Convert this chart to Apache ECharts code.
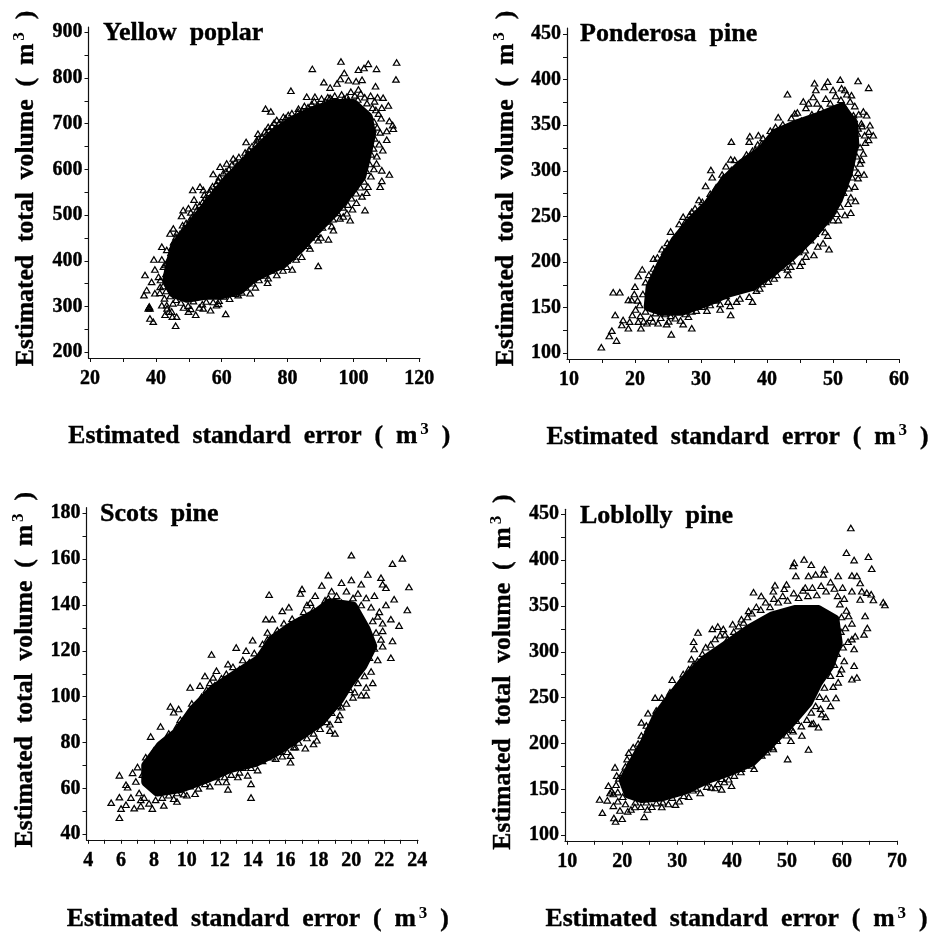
<!DOCTYPE html>
<html><head><meta charset="utf-8">
<style>html,body{margin:0;padding:0;background:#fff}#c{width:931px;height:934px}</style>
<script src="https://cdn.jsdelivr.net/npm/echarts@6/dist/echarts.min.js"></script>
</head><body><div id="c"></div>
<script>
// Individually readable triangles (x = standard error, y = total volume).
const poplarPoints = [[96.2,836],[104.5,831],[113.1,834],[112.9,797],[87.5,820],[107,820],[101.5,818],[103.2,822],[97.2,811],[91,791],[96,798],[95,788],[98.5,795],[102.6,796],[100.8,793],[92.9,779],[81,772],[106.7,782],[101.5,775],[36.7,369],[36.4,325],[37.2,336],[38.7,354],[37.9,298],[37.7,296],[38,300],[38.2,296],[38.2,274],[39.2,267],[39.4,403],[39.7,381],[41.8,403],[41.8,431],[43.3,424],[42.3,387],[40.8,365],[41.3,343],[39.7,329],[42.8,282],[44,289],[44.8,289],[46,258],[46.3,278],[45,278],[41.8,303],[43.3,303],[44.3,460],[45.3,471],[46.3,460],[47.8,498],[48.3,511],[49.9,515],[51.2,555],[51.6,534],[53.4,562],[54.4,555],[55.4,533],[58,555],[57.4,590],[59.5,606],[59,576],[61.5,613],[63.5,624],[67.4,660],[68,635],[67.4,629],[71,678],[70.6,664],[73.3,733],[74.9,727],[74.1,693],[73.6,678],[76.7,708],[78.7,715],[80.2,719],[83.3,733],[85.8,759],[88.3,759],[92.9,757],[98,759],[109,757],[106.8,730],[108.6,735],[110.6,740],[110.9,706],[111.9,697],[110.1,684],[112.1,689],[110.1,665],[108.9,642],[107,613],[108.6,598],[110.9,589],[108.6,575],[108.1,562],[104,549],[103.5,511],[99,489],[98,504],[95.9,493],[93.9,467],[92.4,447],[89.3,445],[89.3,389],[86.8,427],[84.3,409],[81.4,381],[79.7,387],[76.7,369],[73.9,352],[70.6,369],[68.6,329],[65,325],[61.2,284],[59,306],[56.6,292],[54.4,296],[52.1,282],[49.9,289]];
const ponderosaPoints = [[14.9,106.6],[16.1,119],[16.5,124.8],[17.2,113.9],[16.7,166.9],[17.7,166.9],[17,142],[18.2,136.5],[18,131],[19,127.4],[19,158.5],[19.5,158.5],[20,173],[20.5,184.8],[22.8,203.8],[24.5,211.4],[25.4,233.4],[25.8,224],[26.7,241.8],[27.3,249.8],[28.6,255.3],[29.7,268],[30.7,283.4],[31.5,301],[31.7,293],[33.4,293],[33.8,305],[34.5,312.6],[34.6,332],[34.6,301],[36.4,312],[37.4,338],[37.3,332],[38.7,339],[38.2,323],[39.2,330],[40.5,344],[41.7,358.7],[42,346.6],[43.1,384],[44.2,363],[45.5,376],[46.3,374],[47.2,396],[47.4,388.6],[47,381],[49.2,397.8],[48.7,392],[51.1,400],[51.3,390.5],[50,388.6],[53.8,398.5],[55.4,391],[52.8,383],[51.8,388.6],[54.6,365],[55.1,361],[55.6,350],[56.1,339],[55.4,343],[54.3,352],[53.1,361],[53.8,346.6],[54.8,339],[55.4,334],[54.6,319],[54.1,308],[54.7,296],[53.8,292],[53.3,282.7],[53.4,267],[52.3,264],[52.7,254],[51.8,251.6],[50.6,253],[50,246],[48.8,233],[49.4,214],[48.5,220.6],[47.1,207.8],[45.8,213],[45.3,200.5],[45,196],[43.2,185.9],[43.6,195],[41.5,186],[40.2,178.6],[38.4,168.7],[37.8,156.6],[35.4,156.6],[34.5,142],[34.1,156.6],[32.9,154],[30.9,146.8],[29.3,146.8],[28.6,127.4],[27.3,132],[28.1,140],[26.1,138.4],[25.5,120.8],[24.8,132],[23.5,132.9],[21.8,132.9],[20.9,127.4],[19.2,134.7],[20.5,134.7]];
const scotsPoints = [[5.4,53.8],[5.9,65.7],[5.9,56.2],[6,51.2],[5.9,47.2],[6.3,52.9],[6.3,61.6],[6.7,66.8],[6.8,51.4],[7.2,52.3],[7,69.3],[7.5,73.6],[7.8,82.6],[7.9,51.2],[8.4,87],[8,76.5],[8.6,52.6],[9,95.7],[9.2,93.2],[9.5,94.6],[9.4,54.3],[10,57],[9.2,55.5],[10.2,104],[10.8,104.8],[10.5,57.7],[11.1,109],[11.5,118.4],[11.6,108.4],[11.8,111.3],[12.5,114.2],[13,121.4],[12.5,59.6],[12.4,62.8],[11.9,62.8],[13.6,120],[14,124.6],[13.9,62],[13.9,56],[13.7,65.7],[13.2,67],[14.8,133.8],[15,144.5],[15.2,133.8],[14.9,128],[15.8,137.4],[16.2,139],[15.2,73.6],[15.8,74],[16.3,71.4],[16.3,74.3],[16.6,78],[16.9,145],[17,147],[17.2,77.5],[17.3,140],[17.8,144],[17.5,141],[17.7,79.4],[18.6,153],[18.2,148.5],[18.7,85.2],[19,84],[19.2,90],[19.4,149.7],[19.4,95.4],[20,161.7],[20,150.9],[20.1,99.7],[20.6,100.7],[20.9,100.7],[21,153.3],[20.6,149],[21.3,106],[21.8,151.9],[22.1,147.5],[21.9,149],[22.5,158],[23.1,160.3],[23.5,147.8],[23.4,137.8],[22.4,117],[22.5,124.3],[21.9,122],[22.9,131],[22.4,133.8],[22.6,142.5],[22.1,140],[21.6,135],[21.9,128.7]];
const loblollyPoints = [[61.6,435],[60.8,408],[62.2,400],[64.8,403.6],[65.4,390.6],[53.1,400.7],[54.4,395],[51.3,397],[51.1,393.5],[51.6,382.6],[56.8,389.9],[55.2,384.4],[56.6,384.4],[53.9,382.6],[59.3,382.6],[61.8,383.3],[62.7,382.6],[63.3,375],[61.8,366],[63.6,366],[64.5,364.5],[65.3,362.7],[65.7,356.5],[63.3,357],[67.5,354],[67.8,351],[64.2,339],[61.8,331],[64.6,326],[64,319],[62.4,317],[61.8,313.8],[62.2,303],[62.2,284.8],[62.7,272],[61.8,270],[59.9,281],[59.3,266.7],[58.9,249.6],[57.9,241],[57,229],[56.3,232],[55.7,217.8],[54.5,221.4],[53.9,193.5],[52.7,208.7],[51.1,213.4],[50.7,203],[50.1,183],[47.5,194],[46.3,190.6],[44,172.5],[41.7,172.5],[39.9,154],[38.1,150],[36.9,151.4],[38.1,161.6],[35.4,158],[32.9,149],[29.7,133.3],[27.2,130.8],[24.6,128],[24,120],[22.3,130.8],[21,126],[20,118],[18.8,115],[18.5,118.8],[16.4,124.6],[15.9,139],[17.3,138],[17.5,154],[18.4,145],[18.7,174],[19,165],[20.9,183],[22,196],[23.5,208.7],[23.5,223],[24.7,233],[24.4,219.6],[26,250],[27.2,250],[29.1,269.6],[28.7,255.8],[31.1,275.7],[32.6,292],[33.1,303],[33,310.9],[33.8,321],[36.4,325],[37.4,327.5],[38.7,319],[40.1,330],[41.7,335.5],[43,344.6],[43.9,365],[45.3,360.9],[47.8,372.5],[47.5,366],[49.9,373.5],[49.5,368.8],[53.3,370]];
// Crowded rim round each dense region, estimated by eye.
const poplarRim = [[43.1,372],[43.8,402],[44.6,418],[42.9,391],[45.4,441],[44.9,429],[46.6,447],[47.3,459],[46.1,452],[48.5,471],[49.2,483],[48.1,478],[50.3,489],[51.1,497],[50.6,506],[52.4,511],[53.3,522],[52.1,519],[54.2,529],[55.1,538],[54.7,545],[56.3,549],[57.2,563],[56.6,556],[58.4,568],[59.3,583],[58.9,575],[60.5,592],[61.3,596],[62.2,601],[63.1,611],[62.8,592],[64.3,618],[65.2,627],[64.7,610],[66.4,621],[67.1,637],[68.3,643],[69.2,651],[68.8,629],[70.4,655],[71.3,668],[72.2,671],[71.8,651],[73.1,683],[74.4,686],[75.3,695],[76.2,690],[75.9,702],[77.5,702],[78.3,699],[79.4,712],[80.2,706],[81.3,723],[82.4,716],[83.2,726],[84.4,729],[85.1,739],[86.2,736],[87.3,743],[88.1,749],[89.2,741],[90.3,755],[91.4,749],[92.2,758],[93.4,753],[94.3,761],[95.2,749],[96.4,764],[97.1,755],[98.3,752],[99.2,770],[100.4,762],[101.3,753],[102.2,766],[103.4,758],[104.1,745],[105.2,761],[106.4,749],[107.3,758],[105.8,735],[107.6,722],[106.2,705],[108.4,712],[107.2,692],[105.9,688],[108.1,681],[106.4,668],[107.8,655],[106.1,646],[105.4,633],[107.1,629],[104.9,612],[106.2,601],[103.9,597],[105.3,585],[103.2,574],[104.4,562],[102.1,561],[100.8,548],[102.6,541],[99.4,537],[100.9,527],[98.3,523],[99.7,513],[96.8,517],[95.2,505],[96.9,497],[93.8,491],[92.1,486],[93.4,476],[90.6,473],[88.9,459],[90.1,451],[87.2,451],[85.4,438],[86.3,433],[83.1,425],[81.5,409],[82.6,403],[79.8,401],[77.4,388],[78.6,379],[75.1,379],[73.2,368],[74.1,362],[71.3,358],[69.4,351],[70.2,342],[67.3,342],[66.1,331],[64.2,328],[62.4,317],[60.6,322],[59.2,313],[57.4,310],[58.4,303],[55.3,311],[53.2,298],[54.1,305],[51.4,312],[49.8,302],[50.6,295],[47.6,309],[48.4,298],[46.1,315],[44.4,323],[45.2,307],[43.1,334],[42.2,345],[41.4,358],[42.6,318],[41.2,330],[43.4,296]];
const ponderosaRim = [[21.2,165],[20.4,158],[21.6,178],[22.1,186],[21.1,192],[22.8,193],[23.4,205],[24.1,214],[23.2,187],[24.9,221],[25.2,212],[26.3,229],[26.9,235],[27.6,244],[26.5,219],[28.3,252],[29.1,259],[28.8,241],[30.2,266],[30.6,258],[31.4,275],[32.3,282],[32.8,272],[33.2,296],[34.1,289],[34.9,296],[35.6,303],[35.1,312],[36.9,318],[36.2,301],[37.8,322],[38.6,329],[39.4,336],[39.9,324],[40.8,341],[41.3,348],[42.4,351],[42.9,342],[43.7,358],[44.6,364],[45.2,355],[45.9,369],[46.8,362],[47.6,374],[48.2,368],[48.9,379],[49.6,374],[50.4,382],[51.2,378],[52.1,384],[51.7,371],[52.6,376],[53.3,371],[53.9,362],[53.2,357],[54.4,349],[53.7,341],[54.9,331],[54.1,326],[53.6,316],[54.3,312],[53.2,304],[52.9,293],[53.8,298],[52.4,281],[51.6,276],[52.7,271],[51.1,261],[50.4,266],[49.9,257],[50.8,246],[48.9,244],[48.1,238],[49.2,229],[47.3,231],[46.6,224],[47.7,217],[45.4,219],[44.8,211],[45.9,206],[43.8,201],[42.9,204],[42.2,194],[43.1,192],[41.1,182],[40.4,189],[39.2,176],[38.1,181],[38.9,171],[36.8,172],[37.3,162],[35.2,168],[35.9,160],[33.8,163],[34.4,152],[32.2,158],[31.4,153],[32.9,148],[30.2,151],[29.1,152],[27.6,143],[28.6,146],[26.4,147],[25.4,141],[26.9,136],[24.6,143],[23.9,139],[23.1,144],[22.4,139],[21.6,146],[20.8,141],[21.3,135],[20.1,148],[19.6,142],[20.7,153],[19.9,165],[22.7,135],[25.1,135]];
const scotsRim = [[6.4,60.5],[6.9,63],[7.1,58],[6.6,56],[7.3,66],[7.6,69],[7.2,55],[7.7,72],[8.1,75],[8.2,69],[8.5,80],[8.7,77],[8.9,84],[9.1,82],[9.4,87],[9.6,90],[9.9,88],[10.1,93],[10.3,97],[10.6,96],[10.9,100],[11.2,103],[11.4,106],[11.7,105],[12.1,108],[12.4,110],[12.8,113],[13.2,112],[13.4,116],[13.8,115],[14.1,119],[14.4,118],[14.6,123],[14.9,125],[15.2,122],[15.5,129],[15.9,132],[16.2,128],[16.4,134],[16.8,133],[17.1,137],[17.4,135],[17.7,138],[18.1,137],[18.4,142],[18.8,146],[18.6,143],[19.1,144],[19.4,141],[19.7,146],[20.1,143],[20.4,145],[20.6,140],[20.9,143],[21.2,139],[21.4,144],[21.3,133],[21.7,137],[21.5,128],[21.9,132],[21.8,125],[21.4,121],[21.6,116],[21.1,117],[21.2,111],[20.8,109],[20.9,104],[20.4,106],[20.2,102],[19.9,103],[19.7,97],[19.2,96],[19.3,92],[18.8,93],[18.5,89],[18.7,88],[18.1,86],[17.7,84],[17.9,81],[17.3,82],[16.8,80],[16.5,78],[16.1,76],[15.7,76],[15.4,73],[14.9,74],[14.6,72],[14.3,68],[13.9,69],[13.4,69],[13.1,65],[12.7,66],[12.3,65],[11.8,65],[11.4,61],[11.1,62],[10.7,60],[10.2,61],[9.8,57.5],[9.4,58],[8.9,57],[8.5,56],[8.1,55],[7.7,53.5],[7.4,56],[8.3,59]];
const loblollyRim = [[18.1,148],[18.9,155],[19.4,162],[19.2,147],[20.1,168],[20.6,175],[21.4,179],[21.2,190],[22.4,188],[22.9,200],[23.6,197],[24.2,209],[24.7,216],[25.4,222],[25.1,205],[26.2,236],[26.8,230],[27.6,243],[28.3,247],[29.2,256],[29.8,262],[30.6,268],[31.4,272],[32.1,281],[32.9,285],[33.7,290],[34.6,298],[35.2,305],[36.1,308],[36.9,314],[37.8,318],[38.4,325],[39.2,314],[40.3,322],[41.2,328],[42.1,332],[42.8,338],[43.6,342],[44.4,349],[45.2,346],[46.1,354],[46.9,349],[47.6,358],[48.4,354],[49.2,361],[50.1,356],[51.2,364],[52.1,359],[52.9,367],[53.8,361],[54.6,370],[55.4,362],[56.2,372],[57.1,366],[57.9,376],[58.6,369],[59.2,361],[60.1,370],[59.6,352],[60.4,358],[60.8,345],[59.9,338],[61.2,339],[60.6,326],[59.8,322],[61.1,311],[60.2,305],[59.1,298],[60.4,290],[58.6,286],[59.6,276],[57.9,274],[58.4,262],[56.8,261],[57.1,249],[55.9,251],[55.2,241],[56.1,238],[54.4,234],[53.6,226],[54.8,222],[52.6,219],[51.7,225],[50.9,215],[49.9,209],[49.1,214],[48.2,203],[47.4,196],[46.6,199],[45.4,187],[44.6,192],[43.6,176],[42.4,178],[41.6,169],[40.4,165],[39.4,161],[38.6,158],[37.4,156],[36.2,152],[35.4,153],[34.2,146],[33.4,151],[32.1,142],[31.2,143],[30.4,137],[29.1,141],[28.4,134],[27.4,136],[26.2,135],[25.4,131],[24.4,136],[23.4,131],[22.4,136],[21.6,128],[20.6,134],[19.6,127],[20.1,142],[19.2,137],[18.4,132],[17.8,146]];
// Solid-black regions, where single points cannot be read: outline.
const poplarCore = [[44.3,394],[45.8,435],[49.4,467],[53.4,504],[57.4,540],[61.5,577],[65.5,606],[70.6,642],[75.7,679],[81.7,708],[86.8,726],[93.9,744],[100,744],[104.5,715],[105.5,678],[104,628],[102.5,584],[97.9,540],[93.9,504],[88.8,467],[83.8,427],[78.7,394],[73.6,376],[69.6,362],[65.5,336],[59.5,325],[55.4,325],[49.4,318],[45.3,329],[43.3,358]];
const ponderosaCore = [[22.3,173],[24,198.6],[26.1,224],[28.6,246],[31.1,264],[33.6,290],[36.2,308],[39.2,323],[41.2,341],[44.7,352],[48.3,361],[51.3,370],[53.1,352],[53.3,330],[52.3,297],[50.8,268],[49.3,250],[46.8,228],[43.7,206],[40.7,188],[37.7,173],[34.1,166],[30.6,155],[27.1,146],[24,146],[22,151]];
const scotsCore = [[7.5,70],[8.4,78.7],[9.4,84.5],[10.4,94.6],[11.6,103.3],[12.8,109],[14.4,116.4],[15.2,125],[16.4,130.9],[17.9,136.7],[18.7,141],[20.1,139.6],[20.9,129.4],[21.3,122],[20.7,113.5],[19.9,106],[19.3,99],[18.1,88.8],[16.9,83],[15.4,75.8],[14.2,71.4],[12.6,68.6],[11.2,64.2],[9.6,59.9],[8.2,58.4],[7.5,62.8]];
const loblollyCore = [[20.2,159.8],[22.3,183],[24.4,205],[26.3,230],[29,252],[32,274],[35.1,292],[38.7,306.5],[43,324.6],[47.2,339],[51.4,346],[55.7,346],[58.7,335.5],[59.3,310],[57.8,284.8],[55.7,266.7],[53.9,245],[50.8,223],[47.2,201],[43.6,179.7],[39.3,168.8],[35.1,159.8],[31.4,149],[27.2,141.7],[23.5,139.9],[21.1,145]];
// Tick labels
const xLabels1 = [20,40,60,80,100,120], yLabels1 = [200,300,400,500,600,700,800,900];
const xLabels2 = [10,20,30,40,50,60], yLabels2 = [100,150,200,250,300,350,400,450];
const xLabels3 = [4,6,8,10,12,14,16,18,20,22,24], yLabels3 = [40,60,80,100,120,140,160,180];
const xLabels4 = [10,20,30,40,50,60,70], yLabels4 = [100,150,200,250,300,350,400,450];
const xTicks1 = [20,30,40,50,60,70,80,90,100,110,120], yTicks1 = [200,250,300,350,400,450,500,550,600,650,700,750,800,850,900];
const xTicks2 = [10,15,20,25,30,35,40,45,50,55,60], yTicks2 = [100,125,150,175,200,225,250,275,300,325,350,375,400,425,450];
const xTicks3 = [4,5,6,7,8,9,10,11,12,13,14,15,16,17,18,19,20,21,22,23,24], yTicks3 = [40,50,60,70,80,90,100,110,120,130,140,150,160,170,180];
const xTicks4 = [10,15,20,25,30,35,40,45,50,55,60,65,70], yTicks4 = [100,125,150,175,200,225,250,275,300,325,350,375,400,425,450];
const panelNames = ['Yellow  poplar','Ponderosa  pine','Scots  pine','Loblolly  pine'];
const xTitle = 'Estimated  standard  error  (  m', yTitle = 'Estimated  total  volume  (  m';

const FONT = '"Liberation Serif", serif';
const panels = [
 {name:panelNames[0],pts:poplarPoints.concat(poplarRim),core:poplarCore,x:[19.54,120.2],y:[187.5,911.6],xl:xLabels1,yl:yLabels1,xt:xTicks1,yt:yTicks1,l:88.5,r:420,t:27,b:358,tl:103,tt:20,xp:10,yp:8,xg:63,yg:47},
 {name:panelNames[1],pts:ponderosaPoints.concat(ponderosaRim),core:ponderosaCore,x:[9.7,60],y:[93.75,456.6],xl:xLabels2,yl:yLabels2,xt:xTicks2,yt:yTicks2,l:567,r:899,t:28,b:359,tl:580,tt:21,xp:9,yp:10,xg:63,yg:46},
 {name:panelNames[2],pts:scotsPoints.concat(scotsRim),core:scotsCore,x:[3.9,24.05],y:[37.6,182.4],xl:xLabels3,yl:yLabels3,xt:xTicks3,yt:yTicks3,l:86.5,r:418,t:507.7,b:841,tl:100,tt:501,xp:11,yp:8,xg:65,yg:46},
 {name:panelNames[3],pts:loblollyPoints.concat(loblollyRim),core:loblollyCore,x:[9.6,70],y:[93.9,455.4],xl:xLabels4,yl:yLabels4,xt:xTicks4,yt:yTicks4,l:565,r:897,t:509.3,b:842.3,tl:580,tt:503,xp:11,yp:6,xg:64,yg:47}
];
const axisLine={lineStyle:{color:'#111',width:1.2}};
const labelStyle={fontFamily:FONT,fontWeight:'bold',fontSize:20,color:'#000',textBorderColor:'#000',textBorderWidth:0.4};
const rich={a:{fontFamily:FONT,fontWeight:'bold',fontSize:25.7,color:'#000',lineHeight:30,textBorderColor:'#000',textBorderWidth:0.4},
            s:{fontFamily:FONT,fontWeight:'bold',fontSize:17,color:'#000',lineHeight:30,verticalAlign:'top',padding:[0,0,0,3]}};
const option={animation:false,backgroundColor:'#fff',
 title:panels.map(p=>({text:p.name,left:p.tl,top:p.tt,padding:0,textStyle:{fontFamily:FONT,fontWeight:'bold',fontSize:26,color:'#000',textBorderColor:'#000',textBorderWidth:0.4}})),
 grid:panels.map(p=>({left:p.l,top:p.t,width:p.r-p.l,height:p.b-p.t,containLabel:false})),
 xAxis:panels.map((p,i)=>({type:'value',gridIndex:i,min:p.x[0],max:p.x[1],splitLine:{show:false},axisLine,
   axisTick:{show:true,length:4,customValues:p.xt,lineStyle:{color:'#111',width:1}},
   axisLabel:{customValues:p.xl,margin:11,...labelStyle,showMinLabel:true,showMaxLabel:true},
   name:`{a|${xTitle}}{s|3}{a|  )}`,nameLocation:'middle',nameGap:p.xg,nameTextStyle:{rich,padding:[0,0,0,p.xp]}})),
 yAxis:panels.map((p,i)=>({type:'value',gridIndex:i,min:p.y[0],max:p.y[1],splitLine:{show:false},axisLine,
   axisTick:{show:true,length:4,customValues:p.yt,lineStyle:{color:'#111',width:1}},
   axisLabel:{customValues:p.yl,margin:6,...labelStyle,showMinLabel:true,showMaxLabel:true},
   name:`{a|${yTitle}}{s|3}{a|  )}`,nameLocation:'middle',nameGap:p.yg,nameTextStyle:{rich,padding:[0,0,0,p.yp]}})),
 series:panels.flatMap((p,i)=>[
  {type:'custom',name:p.name+' dense',xAxisIndex:i,yAxisIndex:i,coordinateSystem:'cartesian2d',silent:true,z:1,
   data:p.core,encode:{x:0,y:1},clip:false,
   renderItem:(params,api)=>params.dataIndex!==0?null:({type:'polygon',shape:{points:p.core.map(c=>api.coord(c))},style:{fill:'#000',stroke:'#000',lineWidth:9,lineJoin:'round'}})},
  {type:'scatter',name:p.name,xAxisIndex:i,yAxisIndex:i,data:p.pts,symbol:'triangle',symbolSize:[6.5,5.5],silent:true,z:2,
   itemStyle:{color:'rgba(0,0,0,0)',borderColor:'#000',borderWidth:1.2,opacity:1}}
 ])};
echarts.init(document.getElementById('c'),null,{renderer:'canvas'}).setOption(option);
</script></body></html>
